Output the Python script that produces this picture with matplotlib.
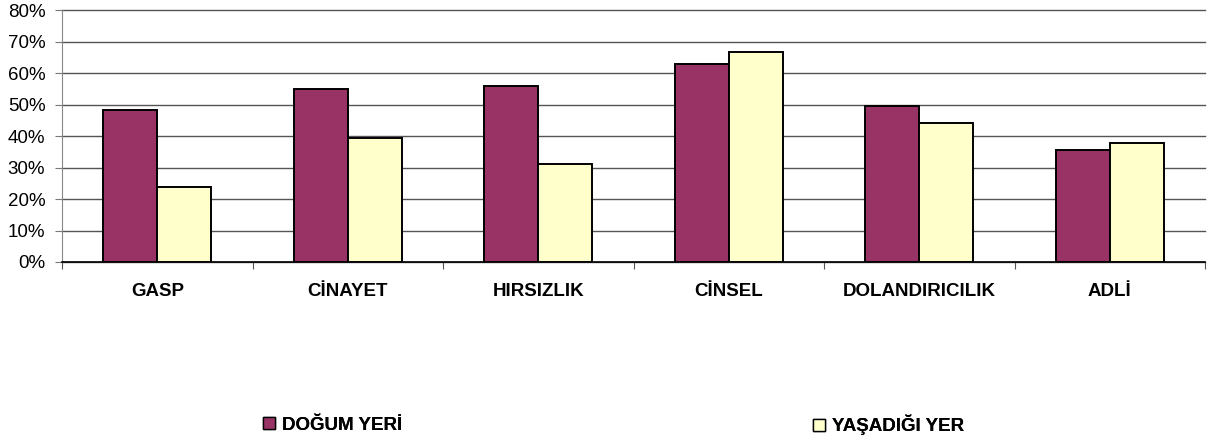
import matplotlib
matplotlib.use("Agg")
import matplotlib.pyplot as plt
import numpy as np
from matplotlib.patches import Patch

plt.rcParams['font.family'] = ['Liberation Sans', 'DejaVu Sans']

categories = ["GASP", "CİNAYET", "HIRSIZLIK", "CİNSEL", "DOLANDIRICILIK", "ADLİ"]
dogum_yeri = [48.2, 55.1, 56.1, 63.1, 49.7, 35.7]
yasadigi_yer = [23.7, 39.4, 31.3, 66.9, 44.3, 37.9]
series_names = ["DOĞUM YERİ", "YAŞADIĞI YER"]
yticks = [0, 10, 20, 30, 40, 50, 60, 70, 80]

purple = "#993366"
yellow = "#FFFFCC"

fig = plt.figure(figsize=(12.21, 4.41), dpi=100)
ax = fig.add_axes([62 / 1221, 1 - 262 / 441, (1205 - 62) / 1221, (262 - 10.5) / 441])

x = np.arange(len(categories))
w = 0.284
ax.bar(x - w / 2, dogum_yeri, w, color=purple, edgecolor="black", linewidth=1.4, zorder=3)
ax.bar(x + w / 2, yasadigi_yer, w, color=yellow, edgecolor="black", linewidth=1.4, zorder=3)

ax.set_xlim(-0.5, len(categories) - 0.5)
ax.set_ylim(0, 80)
ax.set_yticks(yticks)
ax.set_yticklabels([f"{v}%" for v in yticks], fontsize=13.5)
ax.yaxis.grid(True, color="#555555", linewidth=1.0, zorder=0)
for gl in ax.get_ygridlines():
    gl.set_clip_on(False)

ax.set_xticks(np.arange(-0.5, len(categories), 1.0))
ax.set_xticklabels([])
ax.set_xticks(x, minor=True)
ax.set_xticklabels(categories, minor=True, fontsize=13.5, fontweight="bold")
ax.tick_params(axis="x", which="minor", length=0, pad=15)
ax.tick_params(axis="x", which="major", length=5, color="#555555", direction="out")
ax.tick_params(axis="y", length=5, color="#777777", pad=7)

for s in ["top", "right"]:
    ax.spines[s].set_visible(False)
ax.spines["left"].set_color("#888888")
ax.spines["bottom"].set_color("black")
ax.spines["bottom"].set_linewidth(1.2)

# legend: two entries placed far apart as in the original
colors = [purple, yellow]
legend_x = [263, 813]
for name, col, lx in zip(series_names, colors, legend_x):
    leg = fig.legend([Patch(facecolor=col, edgecolor="black", linewidth=1.0)], [name],
                     loc="center left", bbox_to_anchor=(lx / 1221, 1 - 425 / 441),
                     frameon=False, borderpad=0, borderaxespad=0,
                     handlelength=0.62, handleheight=0.62, handletextpad=0.4,
                     prop={"weight": "bold", "size": 13.5})
    fig.add_artist(leg)

fig.savefig("out.png", dpi=100)
